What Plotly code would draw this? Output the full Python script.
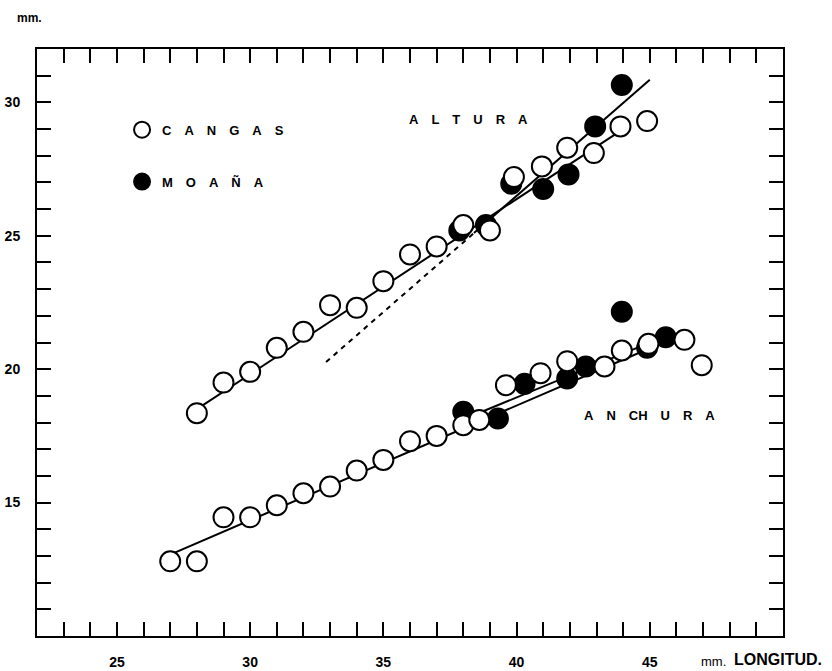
import plotly.graph_objects as go

# Altura (height) against longitud (length), mm
cangas_alt_x = [28, 29, 30, 31, 32, 33, 34, 35, 36, 37, 38, 39, 39.9, 40.95, 41.9, 42.9, 43.9, 44.9]
cangas_alt_y = [18.35, 19.5, 19.9, 20.8, 21.4, 22.4, 22.3, 23.3, 24.3, 24.6, 25.4, 25.2, 27.2, 27.6, 28.3, 28.1, 29.1, 29.3]
moana_alt_x = [37.85, 38.85, 39.8, 41.0, 41.95, 42.95, 43.95]
moana_alt_y = [25.2, 25.4, 26.95, 26.75, 27.3, 29.1, 30.65]

# Anchura (width) against longitud (length), mm
cangas_anc_x = [27, 28, 29, 30, 31, 32, 33, 34, 35, 36, 37, 38, 38.6, 39.6, 40.9, 41.9, 43.3, 43.95, 44.95, 46.3, 46.95]
cangas_anc_y = [12.8, 12.8, 14.45, 14.45, 14.9, 15.35, 15.6, 16.2, 16.6, 17.3, 17.5, 17.9, 18.1, 19.4, 19.85, 20.3, 20.1, 20.7, 20.95, 21.1, 20.15]
moana_anc_x = [38, 39.3, 40.3, 41.9, 42.6, 43.95, 44.9, 45.6]
moana_anc_y = [18.4, 18.15, 19.45, 19.65, 20.1, 22.15, 20.8, 21.2]

# Fitted lines (end points)
cangas_alt_fit_x = [28, 44]
cangas_alt_fit_y = [18.5, 29.0]
moana_alt_fit_x = [38.4, 45]
moana_alt_fit_y = [25.1, 30.85]
moana_alt_ext_x = [32.85, 38.4]
moana_alt_ext_y = [20.27, 25.1]
cangas_anc_fit_x = [27, 45.5]
cangas_anc_fit_y = [13.05, 21.0]
moana_anc_fit_x = [38.2, 45.5]
moana_anc_fit_y = [18.2, 21.2]

# Axis ticks
x_ticks = list(range(23, 50))
x_labels = [str(v) if v % 5 == 0 else "" for v in x_ticks]
y_ticks = list(range(11, 32))
y_labels = [str(v) if v % 5 == 0 else "" for v in y_ticks]

FONT = "Liberation Sans"
SP = "\u2002\u2002"


def spaced(word):
    return SP.join(word)


fig = go.Figure()

line_style = dict(color="black", width=2)
for xs, ys in [(cangas_alt_fit_x, cangas_alt_fit_y), (moana_alt_fit_x, moana_alt_fit_y),
               (cangas_anc_fit_x, cangas_anc_fit_y), (moana_anc_fit_x, moana_anc_fit_y)]:
    fig.add_trace(go.Scatter(x=xs, y=ys, mode="lines", line=line_style,
                             showlegend=False, hoverinfo="skip"))
fig.add_trace(go.Scatter(x=moana_alt_ext_x, y=moana_alt_ext_y, mode="lines",
                         line=dict(color="black", width=2, dash="5px,5px"),
                         showlegend=False, hoverinfo="skip"))

filled = dict(size=20, color="black", line=dict(color="black", width=2))
hollow = dict(size=20, color="white", line=dict(color="black", width=2))

fig.add_trace(go.Scatter(x=moana_alt_x, y=moana_alt_y, mode="markers", marker=filled,
                         name=spaced("MOAÑA"), legendgroup="m", legendrank=2))
fig.add_trace(go.Scatter(x=moana_anc_x, y=moana_anc_y, mode="markers", marker=filled,
                         showlegend=False, legendgroup="m"))
fig.add_trace(go.Scatter(x=cangas_alt_x, y=cangas_alt_y, mode="markers", marker=hollow,
                         name=spaced("CANGAS"), legendgroup="c", legendrank=1))
fig.add_trace(go.Scatter(x=cangas_anc_x, y=cangas_anc_y, mode="markers", marker=hollow,
                         showlegend=False, legendgroup="c"))

axis_common = dict(
    showline=True, linewidth=2, linecolor="black", mirror="ticks",
    ticks="inside", ticklen=14, tickwidth=2, tickcolor="black",
    showgrid=False, zeroline=False, automargin=False,
    tickfont=dict(family=FONT, size=14, color="black", weight="bold"),
)

fig.update_xaxes(range=[22, 50], tickmode="array", tickvals=x_ticks, ticktext=x_labels,
                 ticklabelstandoff=12, **axis_common)
fig.update_yaxes(range=[10, 32], tickmode="array", tickvals=y_ticks, ticktext=y_labels,
                 ticklabelstandoff=12, **axis_common)

txt = dict(family=FONT, size=13, color="black", weight="bold")
fig.add_annotation(x=38.2, y=29.34, xref="x", yref="y", text=spaced("ALTURA"),
                   showarrow=False, font=txt)
fig.add_annotation(x=45.0, y=18.28, xref="x", yref="y",
                   text=SP.join(["A", "N", "CH", "U", "R", "A"]),
                   showarrow=False, font=txt)
fig.add_annotation(x=-0.0107, y=1.0528, xref="paper", yref="paper",
                   xanchor="center", yanchor="middle", text="<b>mm.</b>",
                   showarrow=False, font=dict(family=FONT, size=12, color="black"))
fig.add_annotation(x=(699 - 37) / 746.5, y=-(662 - 636.5) / 587.5, xref="paper", yref="paper",
                   xanchor="left", yanchor="middle", text="mm.",
                   showarrow=False, font=dict(family=FONT, size=13, color="black"))
fig.add_annotation(x=(732 - 37) / 746.5, y=-(660 - 636.5) / 587.5, xref="paper", yref="paper",
                   xanchor="left", yanchor="middle", text="<b>LONGITUD.</b>",
                   showarrow=False, font=dict(family=FONT, size=16, color="black"))

fig.update_layout(
    width=832, height=671,
    margin=dict(l=37, r=48.5, t=49, b=34.5),
    paper_bgcolor="white", plot_bgcolor="white",
    showlegend=True,
    legend=dict(x=0.114, y=0.888, xanchor="left", yanchor="top",
                bgcolor="rgba(0,0,0,0)", font=txt, tracegroupgap=32,
                traceorder="grouped", itemsizing="trace"),
)

fig.write_html("out.html")
